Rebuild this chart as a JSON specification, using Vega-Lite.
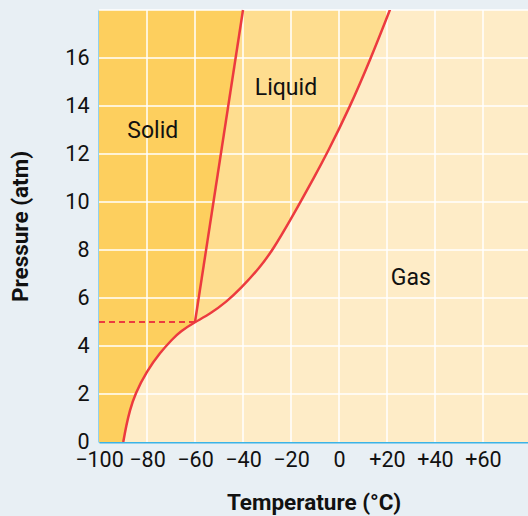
{
  "$schema": "https://vega.github.io/schema/vega-lite/v6.json",
  "width": 429,
  "height": 432,
  "autosize": {"type": "none"},
  "padding": {"left": 99, "top": 10, "right": 0, "bottom": 74},
  "background": "#e8eff4",
  "config": {
    "view": {"stroke": null, "fill": "#fedd8f"},
    "font": "Roboto",
    "axis": {"grid": false, "ticks": false, "domainColor": "#3bb3e6", "domainWidth": 2, "labelFont": "Roboto", "labelFontSize": 21.5, "labelColor": "#111111", "titleFont": "Roboto", "titleFontSize": 22.5, "titleFontWeight": "bold", "titleColor": "#111111", "zindex": 1}
  },
  "datasets": {
    "curve": [
      {"T": -89.9, "P": 0},
      {"T": -88.6, "P": 0.7},
      {"T": -87.2, "P": 1.3},
      {"T": -85, "P": 2.0},
      {"T": -80.1, "P": 2.95},
      {"T": -74.6, "P": 3.72},
      {"T": -69.5, "P": 4.28},
      {"T": -66.2, "P": 4.6},
      {"T": -60, "P": 5},
      {"T": -53.75, "P": 5.33},
      {"T": -46.8, "P": 5.85},
      {"T": -41.25, "P": 6.36},
      {"T": -32.9, "P": 7.28},
      {"T": -27.4, "P": 8.03},
      {"T": -19.7, "P": 9.35},
      {"T": -15.5, "P": 10.1},
      {"T": -10.7, "P": 10.97},
      {"T": -5.1, "P": 12.0},
      {"T": 4.6, "P": 13.97},
      {"T": 12.9, "P": 15.9},
      {"T": 21.25, "P": 18},
      {"T": 30, "P": 20.3},
      {"T": 78.75, "P": 34}
    ],
    "solid": [
      {"T": -60, "P": 0},
      {"T": -60, "P": 5},
      {"T": -40, "P": 18}
    ],
    "melt": [
      {"T": -60, "P": 5},
      {"T": -40, "P": 18}
    ],
    "dash": [
      {"T": -100, "P": 5},
      {"T": -60, "P": 5}
    ],
    "xgrid": [{"T": -80}, {"T": -60}, {"T": -40}, {"T": -20}, {"T": 0}, {"T": 20}, {"T": 40}, {"T": 60}],
    "ygrid": [{"P": 2}, {"P": 4}, {"P": 6}, {"P": 8}, {"P": 10}, {"P": 12}, {"P": 14}, {"P": 16}, {"P": 18}],
    "labels": [
      {"name": "Solid", "T": -77.6, "P": 12.95},
      {"name": "Liquid", "T": -22.1, "P": 14.75},
      {"name": "Gas", "T": 29.9, "P": 6.85}
    ]
  },
  "layer": [
    {
      "data": {"name": "solid"},
      "mark": {"type": "area", "orient": "horizontal", "color": "#fdcf5e", "clip": true},
      "encoding": {
        "x": {"field": "T", "type": "quantitative", "scale": {"domain": [-100, 78.75], "nice": false, "zero": false},
          "axis": {"title": "Temperature (°C)", "values": [-100, -80, -60, -40, -20, 0, 20, 40, 60], "labelFlush": false, "labelPadding": 7, "titlePadding": 21,
            "labelExpr": "datum.value < 0 ? '−' + abs(datum.value) : (datum.value > 0 ? '+' + datum.value : '0')"}},
        "x2": {"datum": -100},
        "y": {"field": "P", "type": "quantitative", "scale": {"domain": [0, 18], "nice": false, "zero": false},
          "axis": {"title": "Pressure (atm)", "values": [0, 2, 4, 6, 8, 10, 12, 14, 16], "labelPadding": 10, "titlePadding": 32}}
      }
    },
    {
      "data": {"name": "curve"},
      "mark": {"type": "area", "color": "#feecc7", "interpolate": "basis", "clip": true},
      "encoding": {
        "x": {"field": "T", "type": "quantitative"},
        "y": {"field": "P", "type": "quantitative"},
        "y2": {"datum": 0}
      }
    },
    {
      "data": {"name": "xgrid"},
      "mark": {"type": "rule", "color": "#ffffff", "strokeWidth": 1.5},
      "encoding": {"x": {"field": "T", "type": "quantitative"}}
    },
    {
      "data": {"name": "ygrid"},
      "mark": {"type": "rule", "color": "#ffffff", "strokeWidth": 1.5},
      "encoding": {"y": {"field": "P", "type": "quantitative"}}
    },
    {
      "data": {"name": "dash"},
      "mark": {"type": "line", "color": "#ec3a3f", "strokeWidth": 2.2, "strokeDash": [6, 4]},
      "encoding": {
        "x": {"field": "T", "type": "quantitative"},
        "y": {"field": "P", "type": "quantitative"}
      }
    },
    {
      "data": {"name": "melt"},
      "mark": {"type": "line", "color": "#ec3a3f", "strokeWidth": 2.5},
      "encoding": {
        "x": {"field": "T", "type": "quantitative"},
        "y": {"field": "P", "type": "quantitative"}
      }
    },
    {
      "data": {"name": "curve"},
      "mark": {"type": "line", "color": "#ec3a3f", "strokeWidth": 2.5, "interpolate": "basis", "clip": true},
      "encoding": {
        "x": {"field": "T", "type": "quantitative"},
        "y": {"field": "P", "type": "quantitative"}
      }
    },
    {
      "data": {"name": "labels"},
      "mark": {"type": "text", "font": "Roboto", "fontSize": 23, "color": "#111111"},
      "encoding": {
        "x": {"field": "T", "type": "quantitative"},
        "y": {"field": "P", "type": "quantitative"},
        "text": {"field": "name"}
      }
    }
  ]
}
